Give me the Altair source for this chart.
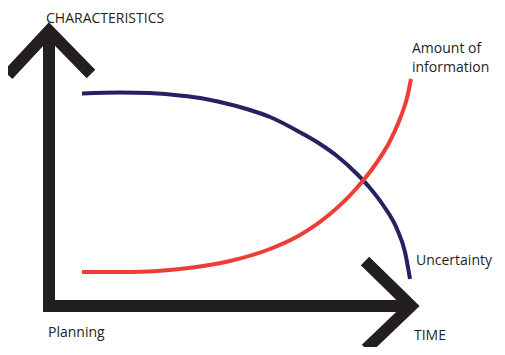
import altair as alt
import pandas as pd

# Curves (time on x, characteristic level on y; origin at axis corner)
unc_x = [33, 71, 101, 121, 151, 171, 201, 221, 254, 271, 288, 308, 321, 334, 348, 356, 361]
unc_y = [212.5, 213.5, 213, 211.5, 208, 204, 196, 189, 172, 162, 150, 132, 118, 101, 77, 54, 27]
info_x = [33, 81, 131, 181, 221, 251, 281, 306, 326, 341, 352, 358, 362]
info_y = [34, 34, 37, 45, 57, 71, 92, 116, 141, 165, 190, 208, 227]

# Axis arrows (shafts and heads)
arrow_seg = ["v_shaft", "v_shaft", "v_head", "v_head", "v_head",
             "h_shaft", "h_shaft", "h_head", "h_head", "h_head"]
arrow_x = [0, 0, -41, 0, 42, -6, 362, 316, 362, 317]
arrow_y = [-6, 275, 231, 275, 232, 0, 0, 45, 0, -43]

# Labels
label_text = ["CHARACTERISTICS", "Amount of", "information", "Uncertainty", "TIME", "Planning"]
label_x = [-3, 363, 363, 367, 365, -1]
label_y = [283, 253, 234, 41, -34, -31]

X_DOM = [-41, 448]
Y_DOM = [-41, 298]
INK = "#231f20"
FONT = "Open Sans"

xs = alt.Scale(domain=X_DOM, nice=False, zero=False)
ys = alt.Scale(domain=Y_DOM, nice=False, zero=False)

unc = pd.DataFrame({"x": unc_x, "y": unc_y, "i": range(len(unc_x))})
info = pd.DataFrame({"x": info_x, "y": info_y, "i": range(len(info_x))})
arrows = pd.DataFrame({"seg": arrow_seg, "x": arrow_x, "y": arrow_y,
                       "i": range(len(arrow_x))})
labels = pd.DataFrame({"t": label_text, "x": label_x, "y": label_y})

def enc(ch):
    return ch.encode(
        x=alt.X("x:Q", scale=xs, axis=None),
        y=alt.Y("y:Q", scale=ys, axis=None),
        order="i:Q",
    )

arrow_layer = alt.Chart(arrows).mark_line(
    color=INK, strokeWidth=12, strokeCap="butt", strokeJoin="miter", strokeMiterLimit=10
).encode(
    x=alt.X("x:Q", scale=xs, axis=None),
    y=alt.Y("y:Q", scale=ys, axis=None),
    detail="seg:N",
    order="i:Q",
)

unc_layer = enc(alt.Chart(unc).mark_line(
    color="#252163", strokeWidth=4, interpolate="monotone", strokeCap="butt"))
info_layer = enc(alt.Chart(info).mark_line(
    color="#ee3d37", strokeWidth=4, interpolate="monotone", strokeCap="butt"))

text_layer = alt.Chart(labels).mark_text(
    align="left", baseline="alphabetic", font=FONT, fontSize=14, color=INK
).encode(
    x=alt.X("x:Q", scale=xs, axis=None),
    y=alt.Y("y:Q", scale=ys, axis=None),
    text="t:N",
)

chart = alt.layer(arrow_layer, unc_layer, info_layer, text_layer).properties(
    width=489, height=339,
    autosize=alt.AutoSizeParams(type="none"),
    padding=0,
    background="white",
).configure_view(stroke=None)

chart.save("out.html", embed_options={"renderer": "svg", "actions": False})
